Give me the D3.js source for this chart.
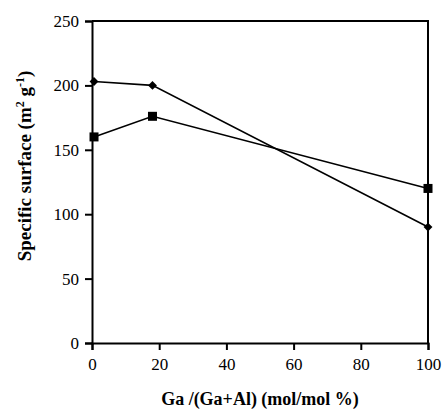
<!DOCTYPE html>
<html><head><meta charset="utf-8">
<script src="https://cdn.jsdelivr.net/npm/d3@7"></script>
<style>body{margin:0;background:#fff}</style>
</head><body>
<svg id="c" width="442" height="412"></svg>
<script>
const xValues = [0.6, 18, 100];
const diamondSeries = [203, 200, 90];
const squareSeries = [160, 176, 120];
const yTicks = [0, 50, 100, 150, 200, 250];
const xTicks = [0, 20, 40, 60, 80, 100];

const svg = d3.select("#c");
const m = {l: 92, r: 14, t: 21, b: 69};
const W = 442, H = 412;
const x = d3.scaleLinear().domain([0, 100]).range([m.l, W - m.r]);
const y = d3.scaleLinear().domain([0, 250]).range([H - m.b, m.t]);
const font = "'Liberation Serif', 'Times New Roman', serif";

// frame top & right
svg.append("path").attr("d", `M${x(0)},${y(250)}H${x(100)}V${y(0)}`)
  .attr("fill", "none").attr("stroke", "#000").attr("stroke-width", 2);

const gx = svg.append("g").attr("transform", `translate(0,${y(0)})`)
  .call(d3.axisBottom(x).tickValues(xTicks).tickSize(7).tickPadding(8).tickFormat(d3.format("d")));
const gy = svg.append("g").attr("transform", `translate(${x(0)},0)`)
  .call(d3.axisLeft(y).tickValues(yTicks).tickSize(7).tickPadding(6).tickFormat(d3.format("d")));
[gx, gy].forEach(g => {
  g.select(".domain").attr("stroke-width", 2);
  g.selectAll(".tick line").attr("stroke-width", 2);
  g.selectAll("text").attr("font-family", font).attr("font-size", 17).attr("fill", "#000");
});

const line = d3.line().x((d, i) => x(xValues[i])).y(d => y(d));
[diamondSeries, squareSeries].forEach(s => {
  svg.append("path").datum(s).attr("d", line).attr("fill", "none")
    .attr("stroke", "#000").attr("stroke-width", 1.6);
});
svg.selectAll(".dia").data(diamondSeries).join("path")
  .attr("d", d3.symbol(d3.symbolDiamond2 || d3.symbolDiamond, 50))
  .attr("transform", (d, i) => `translate(${x(xValues[i])},${y(d)})`).attr("fill", "#000");
svg.selectAll(".sq").data(squareSeries).join("rect")
  .attr("x", (d, i) => x(xValues[i]) - 4.5).attr("y", d => y(d) - 4.5)
  .attr("width", 9).attr("height", 9).attr("fill", "#000");

svg.append("text").attr("x", (x(0) + x(100)) / 2).attr("y", 405)
  .attr("text-anchor", "middle").attr("font-family", font).attr("font-weight", "bold")
  .attr("font-size", 18).text("Ga /(Ga+Al) (mol/mol %)");

const yl = svg.append("text").attr("transform", `translate(31,166) rotate(-90)`)
  .attr("text-anchor", "middle").attr("font-family", font).attr("font-weight", "bold").attr("font-size", 19);
yl.append("tspan").text("Specific surface (m");
yl.append("tspan").attr("baseline-shift", "super").attr("font-size", 12).text("2");
yl.append("tspan").text(" g");
yl.append("tspan").attr("baseline-shift", "super").attr("font-size", 12).text("-1");
yl.append("tspan").text(")");
</script>
</body></html>
